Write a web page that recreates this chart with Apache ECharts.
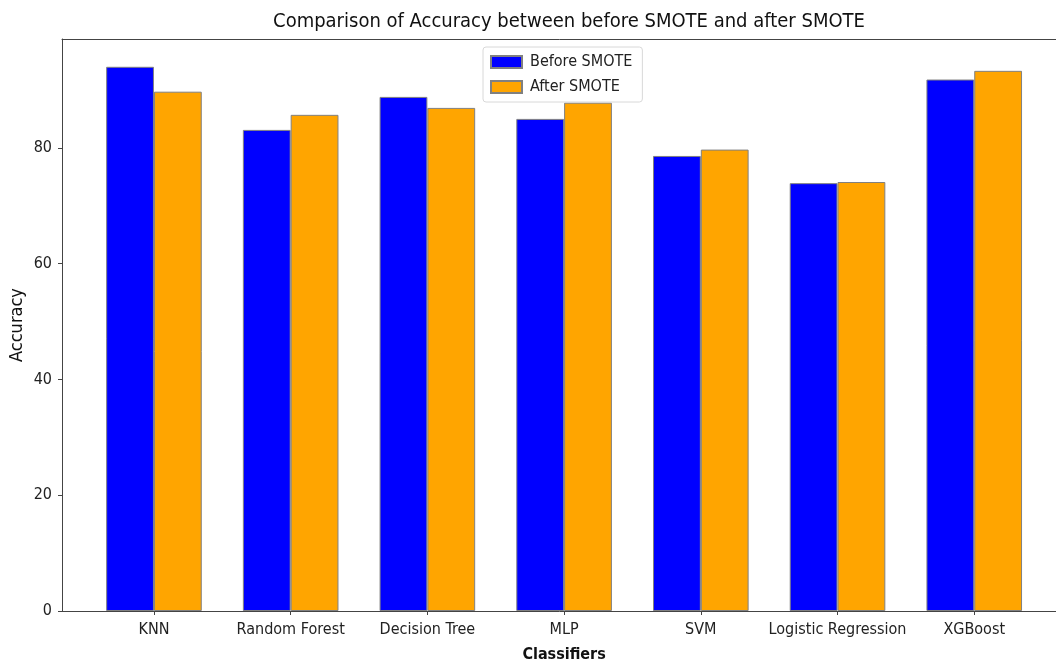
<!DOCTYPE html>
<html>
<head>
<meta charset="utf-8">
<script src="https://cdn.jsdelivr.net/npm/echarts@6/dist/echarts.min.js"></script>
<style>html,body{margin:0;padding:0;background:#fff}#c{width:1056px;height:664px}</style>
</head>
<body>
<div id="c"></div>
<script>
const categories = ['KNN', 'Random Forest', 'Decision Tree', 'MLP', 'SVM', 'Logistic Regression', 'XGBoost'];
const beforeSmote = [94.0, 83.1, 88.8, 85.0, 78.6, 73.9, 91.8];
const afterSmote  = [89.7, 85.7, 86.9, 87.8, 79.7, 74.1, 93.3];
const yTicks = [0, 20, 40, 60, 80];

const FONT = 'DejaVu Sans Condensed, DejaVu Sans, sans-serif';
const chart = echarts.init(document.getElementById('c'));
const yMax = 98.8;
const spine = { show: true, lineStyle: { color: '#444', width: 1 } };
chart.setOption({
  animation: false,
  textStyle: { fontFamily: FONT },
  title: {
    text: 'Comparison of Accuracy between before SMOTE and after SMOTE',
    left: 564, top: 7, textAlign: 'center',
    textStyle: { fontFamily: FONT, fontSize: 20, fontWeight: 'normal', color: '#111' }
  },
  legend: {
    data: ['Before SMOTE', 'After SMOTE'],
    orient: 'vertical', left: 483, top: 47,
    icon: 'rect',
    itemWidth: 31, itemHeight: 12, itemGap: 9,
    padding: [7, 10, 7, 7],
    backgroundColor: '#fff', borderColor: '#d8d8d8', borderWidth: 1, borderRadius: 3,
    textStyle: { fontFamily: FONT, fontSize: 16, lineHeight: 16, color: '#222', padding: [0, 0, 0, 3] }
  },
  grid: [
    { left: 62, width: 1004, top: 39, bottom: 53, outerBoundsMode: 'none', containLabel: false },
    { left: 85.6, width: 957, top: 39, bottom: 53, outerBoundsMode: 'none', containLabel: false }
  ],
  xAxis: [
    { type: 'value', gridIndex: 0, min: 0, max: 1, position: 'bottom',
      axisLine: spine, axisTick: { show: false }, axisLabel: { show: false }, splitLine: { show: false } },
    { type: 'value', gridIndex: 0, min: 0, max: 1, position: 'top',
      axisLine: spine, axisTick: { show: false }, axisLabel: { show: false }, splitLine: { show: false } },
    { type: 'category', gridIndex: 1, data: categories,
      axisLine: { show: false },
      axisTick: { show: true, alignWithLabel: true, length: 4, lineStyle: { color: '#444' } },
      axisLabel: { fontFamily: FONT, fontSize: 16, color: '#222', margin: 11, interval: 0 },
      name: 'Classifiers', nameLocation: 'middle', nameGap: 36,
      nameTextStyle: { fontFamily: FONT, fontSize: 16, fontWeight: 'bold', color: '#111' }
    }
  ],
  yAxis: [
    { type: 'value', gridIndex: 0, min: 0, max: yMax, interval: 20,
      axisLine: spine,
      axisTick: { show: true, length: 4, lineStyle: { color: '#444' } },
      splitLine: { show: false },
      axisLabel: { fontFamily: FONT, fontSize: 16, color: '#222', margin: 10, showMaxLabel: false,
        formatter: v => yTicks.includes(v) ? String(v) : '' },
      name: 'Accuracy', nameLocation: 'middle', nameGap: 36, nameRotate: 90, nameMoveOverlap: false,
      nameTextStyle: { fontFamily: FONT, fontSize: 18, color: '#111' }
    },
    { type: 'value', gridIndex: 1, min: 0, max: yMax, show: false }
  ],
  series: [
    { name: 'Before SMOTE', type: 'bar', xAxisIndex: 2, yAxisIndex: 1, data: beforeSmote,
      barWidth: 47.8, barGap: '0%',
      itemStyle: { color: '#0000ff', borderColor: '#808080', borderWidth: 1 } },
    { name: 'After SMOTE', type: 'bar', xAxisIndex: 2, yAxisIndex: 1, data: afterSmote,
      barWidth: 47.8, barGap: '0%',
      itemStyle: { color: '#ffa500', borderColor: '#808080', borderWidth: 1 } }
  ]
});
</script>
</body>
</html>
